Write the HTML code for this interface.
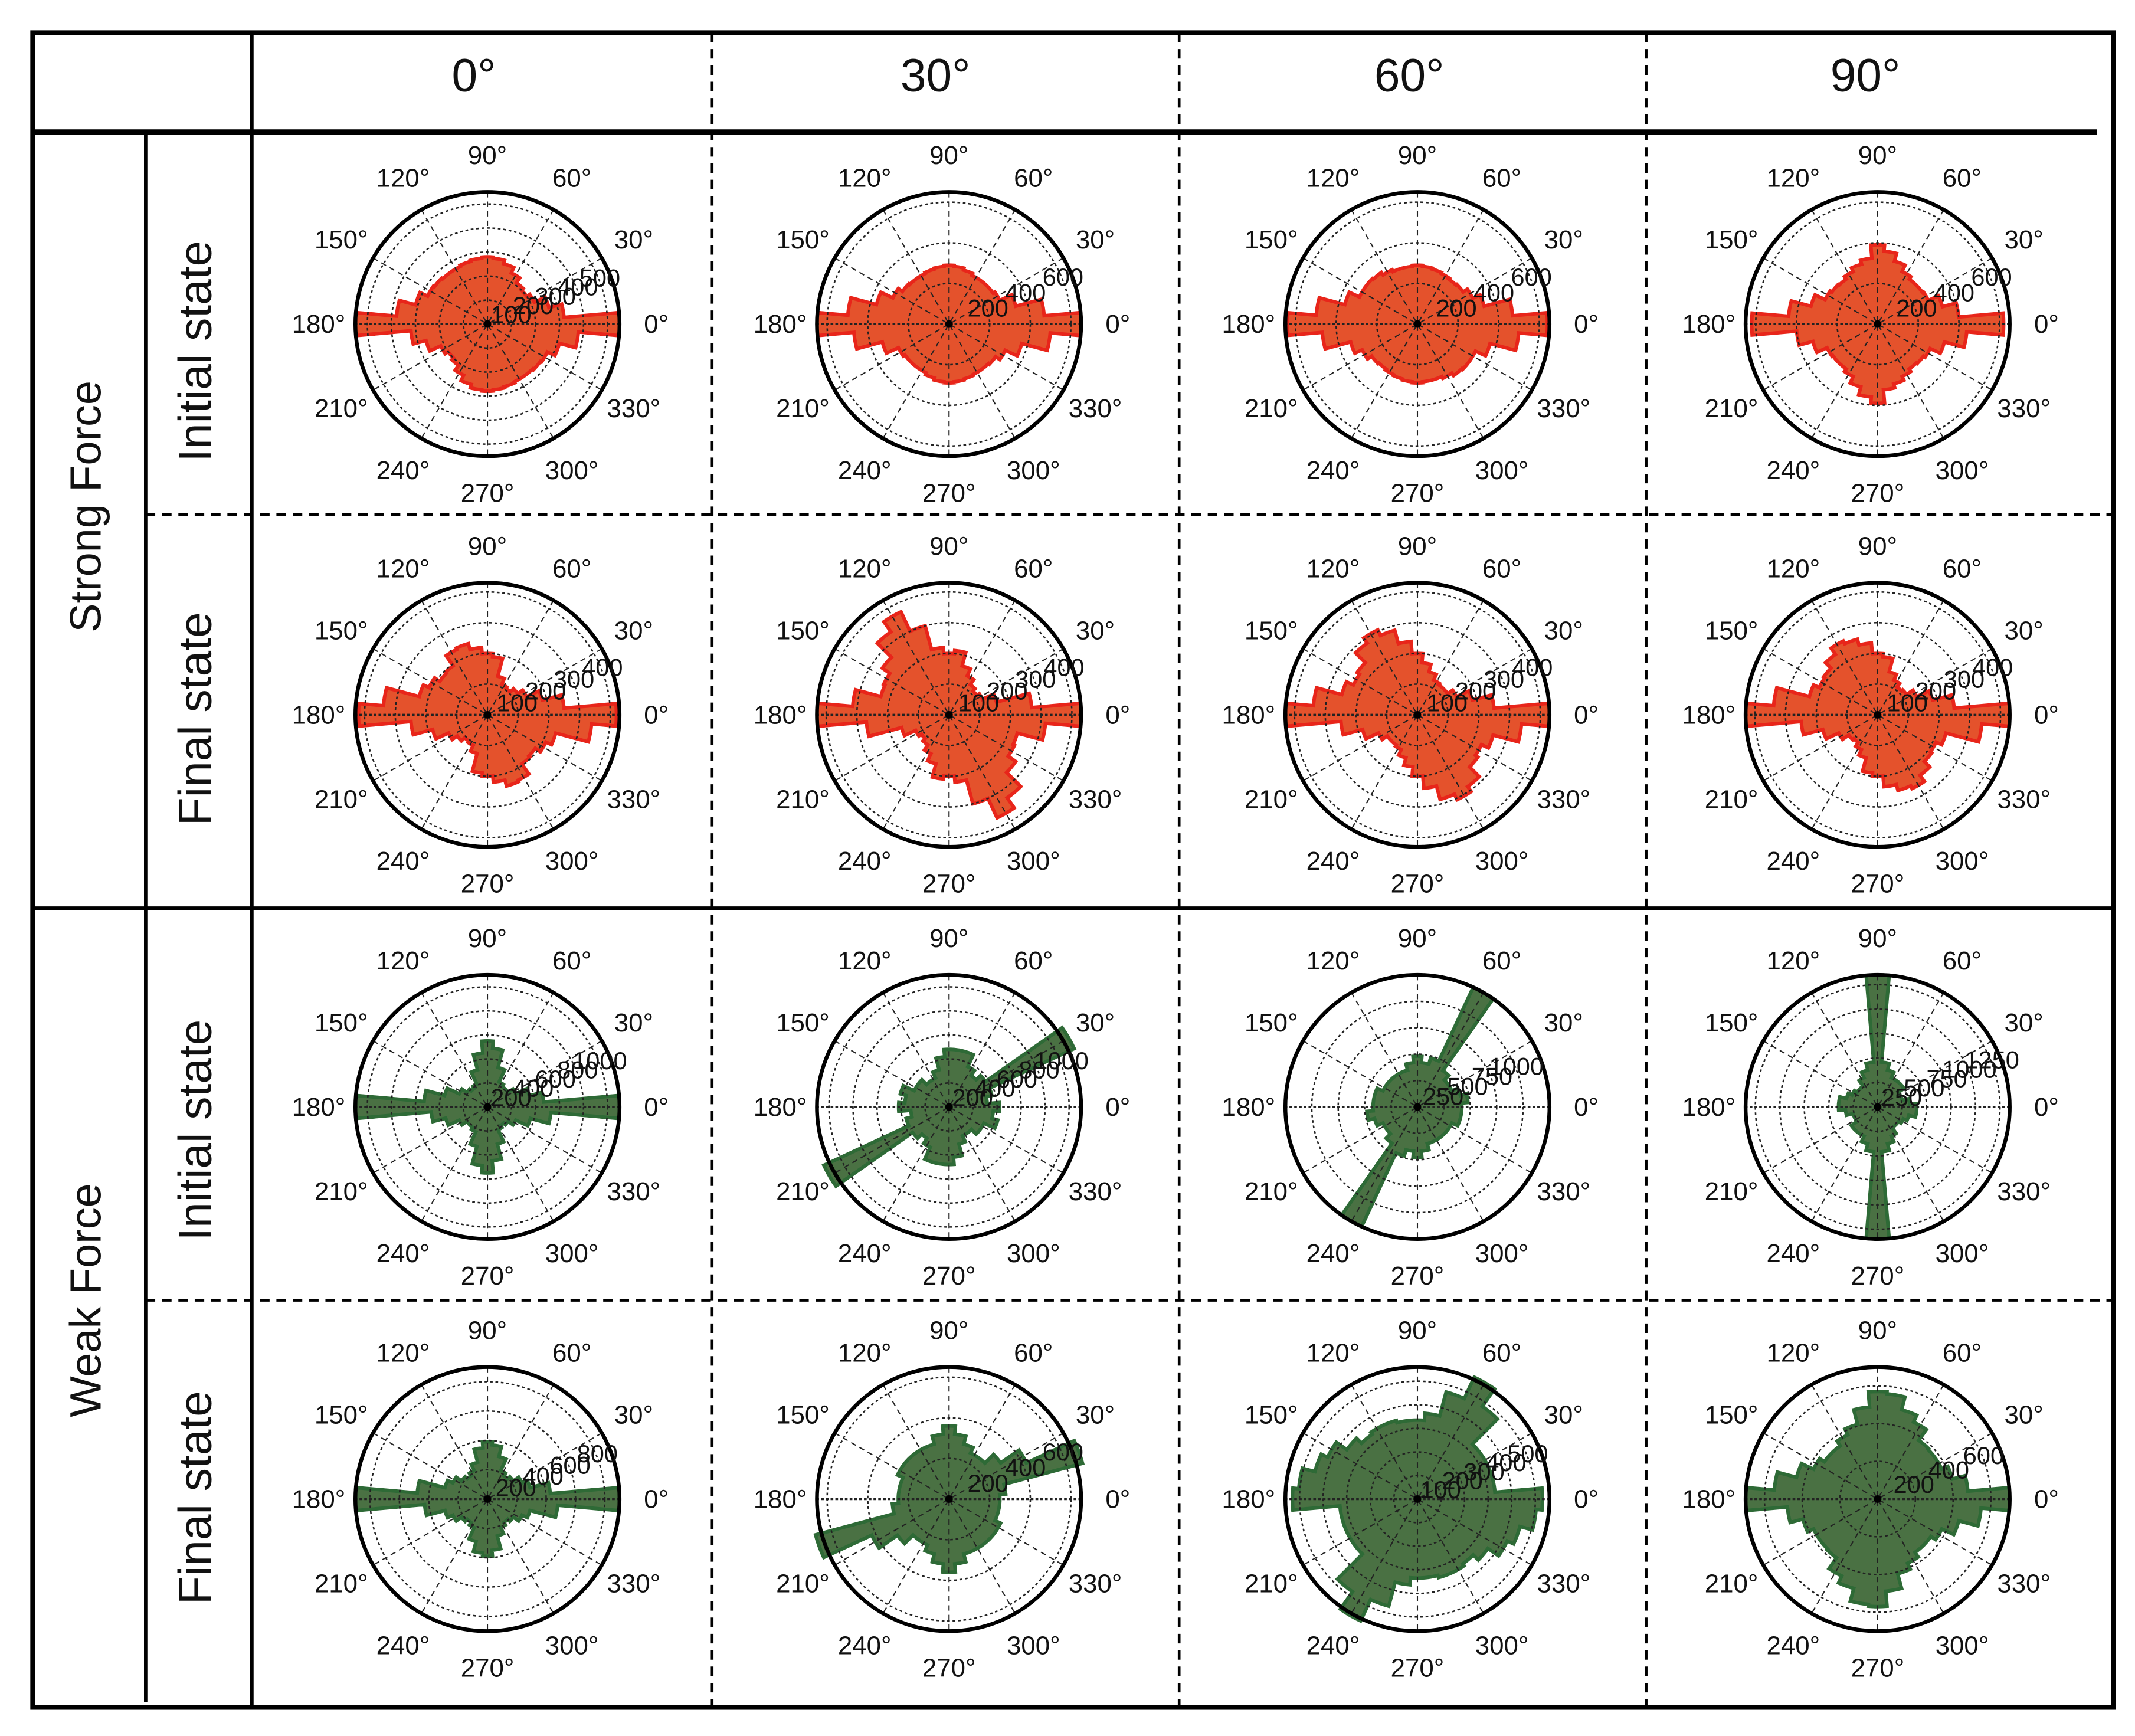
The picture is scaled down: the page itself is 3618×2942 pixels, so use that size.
<!DOCTYPE html>
<html><head><meta charset="utf-8"><style>
html,body{margin:0;padding:0;background:#fff}
svg{display:block}
text{font-family:"Liberation Sans",sans-serif;fill:#111}
</style></head><body>
<svg id="fig" width="3618" height="2942" viewBox="0 0 1568 1275" xmlns="http://www.w3.org/2000/svg">
<g stroke="#000" fill="none">
<rect x="24" y="24" width="1528" height="1230" stroke-width="3.5"/>
<line x1="24" y1="97" x2="1540" y2="97" stroke-width="4"/>
<line x1="185" y1="24" x2="185" y2="1254" stroke-width="2.5"/>
<line x1="107" y1="97" x2="107" y2="1250" stroke-width="2.5"/>
<line x1="24" y1="667" x2="1552" y2="667" stroke-width="2.5"/>
<line x1="107" y1="378" x2="1552" y2="378" stroke-width="2" stroke-dasharray="7,5"/>
<line x1="107" y1="955" x2="1552" y2="955" stroke-width="2" stroke-dasharray="7,5"/>
<line x1="523" y1="24" x2="523" y2="1254" stroke-width="2" stroke-dasharray="7,5"/>
<line x1="866" y1="24" x2="866" y2="1254" stroke-width="2" stroke-dasharray="7,5"/>
<line x1="1209" y1="24" x2="1209" y2="1254" stroke-width="2" stroke-dasharray="7,5"/>
</g>
<text x="348" y="67" font-size="34" text-anchor="middle">0°</text>
<text x="687" y="67" font-size="34" text-anchor="middle">30°</text>
<text x="1035" y="67" font-size="34" text-anchor="middle">60°</text>
<text x="1370" y="67" font-size="34" text-anchor="middle">90°</text>
<text transform="translate(74,372) rotate(-90)" font-size="32" text-anchor="middle">Strong Force</text>
<text transform="translate(74,955) rotate(-90)" font-size="32" text-anchor="middle">Weak Force</text>
<text transform="translate(155,258) rotate(-90)" font-size="34" text-anchor="middle">Initial state</text>
<text transform="translate(155,528) rotate(-90)" font-size="34" text-anchor="middle">Final  state</text>
<text transform="translate(155,830) rotate(-90)" font-size="34" text-anchor="middle">Initial state</text>
<text transform="translate(155,1100) rotate(-90)" font-size="34" text-anchor="middle">Final  state</text>
<g id="plots"></g>
</svg>
<script>
// bin centres (degrees) for 10-degree bins, mirrored by 180
const binCenters = [0,10,20,30,40,50,60,70,80,90,100,110,120,130,140,150,160,170];
const angleLabels = [0,30,60,90,120,150,180,210,240,270,300,330];
// bin values (counts) per panel
const siP0 = [550,320,265,215,200,210,235,260,275,280,275,270,265,265,270,275,310,380];
const siP30 = [650,470,340,275,265,265,265,275,285,290,285,280,275,275,280,305,370,500];
const siP60 = [640,470,340,300,275,270,275,280,285,290,285,285,295,310,315,315,370,500];
const siP90 = [620,400,330,275,270,270,285,320,360,390,325,305,285,270,275,285,340,440];
const sfP0 = [420,250,185,140,120,105,110,130,190,200,220,240,235,195,190,210,230,340];
const sfP30 = [430,270,160,120,110,120,140,165,210,200,220,300,370,330,265,235,230,315];
const sfP60 = [430,250,185,140,120,120,125,145,170,200,240,285,305,285,240,230,255,340];
const sfP90 = [430,250,185,140,115,110,125,145,190,200,235,255,265,240,215,210,230,340];
const wiP0 = [1100,470,360,260,210,210,230,340,490,550,450,320,210,190,210,260,370,530];
const wiP30 = [420,320,370,1150,370,320,370,480,480,480,420,320,265,265,320,320,420,370];
const wiP60 = [420,480,420,360,360,420,1250,480,420,480,420,360,360,360,360,360,420,420];
const wiP90 = [400,330,260,260,330,330,330,390,460,1350,460,390,330,260,260,290,330,400];
const wfP0 = [900,430,300,260,215,195,215,300,370,390,350,260,215,195,215,260,300,480];
const wfP30 = [250,280,680,420,310,250,250,280,320,360,320,280,280,280,280,280,250,250];
const wfP60 = [530,330,330,330,330,480,570,470,365,335,335,345,345,335,365,420,450,505];
const wfP90 = [700,480,410,375,375,380,450,490,560,570,490,410,375,345,345,375,445,550];
// radial tick labels per panel
const ticksA = [100,200,300,400,500];
const ticksB = [200,400,600];
const ticksC = [100,200,300,400];
const ticksD = [200,400,600,800,1000];
const ticksE = [250,500,750,1000];
const ticksF = [250,500,750,1000,1250];
const ticksG = [200,400,600,800];
const panelValues = [siP0,siP30,siP60,siP90,sfP0,sfP30,sfP60,sfP90,wiP0,wiP30,wiP60,wiP90,wfP0,wfP30,wfP60,wfP90];
const panelTicks = [ticksA,ticksB,ticksB,ticksB,ticksC,ticksC,ticksC,ticksC,ticksD,ticksD,ticksE,ticksF,ticksG,ticksB,ticksA,ticksB];
const panelMax = [550,650,650,650,430,430,430,430,1100,1100,1250,1350,900,650,560,700];
const panelNames = ['strong-initial-0','strong-initial-30','strong-initial-60','strong-initial-90','strong-final-0','strong-final-30','strong-final-60','strong-final-90','weak-initial-0','weak-initial-30','weak-initial-60','weak-initial-90','weak-final-0','weak-final-30','weak-final-60','weak-final-90'];

const NS='http://www.w3.org/2000/svg';
const cxs=[358,697,1041,1379], cys=[238,525,813,1101], R=97;
const root=document.getElementById('plots');
function mk(tag,attrs,parent){const e=document.createElementNS(NS,tag);for(const k in attrs)e.setAttribute(k,attrs[k]);parent.appendChild(e);return e;}
function pt(cx,cy,r,deg){const a=deg*Math.PI/180;return [cx+r*Math.cos(a),cy-r*Math.sin(a)];}

panelValues.forEach((vals,i)=>{
  const cx=cxs[i%4], cy=cys[Math.floor(i/4)], max=panelMax[i];
  const rScale=v=>Math.min(v/max,1.08)*R;
  const red=i<8;
  const g=mk('g',{},root);
  
  
  let d='';
  const n=binCenters.length, w=180/n;
  for(let k=0;k<2*n;k++){
    const v=vals[k%n], ang=binCenters[k%n]+(k>=n?180:0);
    const r=rScale(v);
    const p1=pt(cx,cy,r,ang-w/2), p2=pt(cx,cy,r,ang+w/2);
    d+=(k===0?'M':'L')+p1[0].toFixed(2)+','+p1[1].toFixed(2)+' A'+r.toFixed(2)+','+r.toFixed(2)+' 0 0 0 '+p2[0].toFixed(2)+','+p2[1].toFixed(2)+' ';
  }
  d+='Z';
  const rose=mk('path',{d:d,fill:red?'#e4522c':'#4a7143',stroke:red?'#e8251a':'#2e6a36','stroke-width':2.6,'stroke-linejoin':'miter'},g);
  
  
  panelTicks[i].forEach(t=>{
    const c=mk('circle',{cx:cx,cy:cy,r:(t/max*R).toFixed(2),fill:'none',stroke:'#222','stroke-width':1.1,'stroke-dasharray':'2,2'},g);
    
    
  });
  for(let a=0;a<180;a+=30){
    const p1=pt(cx,cy,R,a),p2=pt(cx,cy,R,a+180);
    const l=mk('line',{x1:p1[0],y1:p1[1],x2:p2[0],y2:p2[1],stroke:'#222','stroke-width':a===0?1.5:0.9,'stroke-dasharray':a===0?'2,1.5':'4,3'},g);
    
    
  }
  const outer=mk('circle',{cx:cx,cy:cy,r:R,fill:'none',stroke:'#000','stroke-width':2.8},g);
  
  
  const dot=mk('circle',{cx:cx,cy:cy,r:2.8,fill:'#000'},g);
  
  
  angleLabels.forEach(a=>{
    const p=pt(cx,cy,R+27,a);
    const t=mk('text',{x:p[0].toFixed(1),y:(p[1]+6.5).toFixed(1),'font-size':19,'text-anchor':'middle'},g);
    t.textContent=a+'°';
    
    
  });
  panelTicks[i].forEach(tv=>{
    const p=pt(cx,cy,tv/max*R,22.5);
    const t=mk('text',{x:(p[0]+1).toFixed(1),y:(p[1]+6).toFixed(1),'font-size':18,'text-anchor':'middle'},g);
    t.textContent=tv;
    
    
  });
});
</script>
</body></html>
